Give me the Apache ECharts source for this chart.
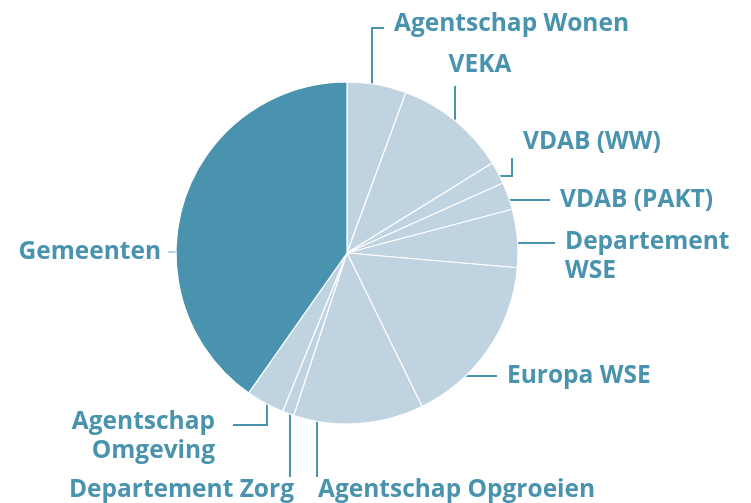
<!DOCTYPE html>
<html>
<head>
<meta charset="utf-8">
<script src="https://cdn.jsdelivr.net/npm/echarts@6/dist/echarts.min.js"></script>
<style>
  html, body { margin: 0; padding: 0; background: #fff; }
  #chart { width: 751px; height: 503px; }
</style>
</head>
<body>
<div id="chart"></div>
<script>
// data (aandeel in %) -------------------
var names = ['Agentschap Wonen', 'VEKA', 'VDAB (WW)', 'VDAB (PAKT)', 'Departement\nWSE',
             'Europa WSE', 'Agentschap Opgroeien', 'Departement Zorg', 'Agentschap\nOmgeving', 'Gemeenten'];
var values = [5.6, 10.6, 2.1, 2.6, 5.5, 16.4, 12.3, 1.1, 3.6, 40.3];

var light = '#bfd3e0';
var dark = '#4a93ae';

// label positions + label lines (pixels)
var spots = [
    {x: 394, y: 24,  align: 'left',   line: [[372, 92], [372, 28], [384, 28]]},
    {x: 480, y: 65,  align: 'center', line: [[455, 128], [455, 86]]},
    {x: 523, y: 142, align: 'left',   line: [[487, 176], [512, 176], [512, 158]]},
    {x: 560, y: 200, align: 'left',   line: [[503, 200], [550, 200]]},
    {x: 565, y: 257, align: 'left',   line: [[507, 243], [555, 243]]},
    {x: 507, y: 376, align: 'left',   line: [[449, 376], [497, 376]]},
    {x: 318, y: 490, align: 'left',   line: [[317, 410], [317, 477]]},
    {x: 294, y: 490, align: 'right',  line: [[290, 412], [290, 477]]},
    {x: 215, y: 437, align: 'right',  line: [[267, 394], [267, 425], [233, 425]]},
    {x: 161, y: 252, align: 'right',  line: [[195, 252], [168, 252]]}
];

var seriesData = [];
for (var i = 0; i < names.length; i++) {
    var last = i == names.length - 1;
    seriesData.push({
        name: names[i],
        value: values[i],
        itemStyle: {color: last ? dark : light},
        labelLine: {lineStyle: {color: last ? light : dark}}
    });
}

var myChart = echarts.init(document.getElementById('chart'));

option = {
    animation: false,
    series: [
        {
            type: 'pie',
            center: [347, 253],
            radius: 171,
            startAngle: 90,
            clockwise: true,
            avoidLabelOverlap: false,
            itemStyle: {borderColor: '#fff', borderWidth: 1.2},
            label: {
                show: true,
                color: dark,
                fontFamily: 'Open Sans',
                fontWeight: 'bold',
                fontSize: 24.5,
                lineHeight: 29,
                formatter: '{b}'
            },
            labelLine: {show: true, lineStyle: {width: 2}},
            labelLayout: function (params) {
                var s = spots[params.dataIndex];
                return {
                    x: s.x,
                    y: s.y,
                    align: s.align,
                    verticalAlign: 'middle',
                    labelLinePoints: s.line
                };
            },
            emphasis: {disabled: true},
            data: seriesData
        }
    ]
};
myChart.setOption(option);
</script>
</body>
</html>
